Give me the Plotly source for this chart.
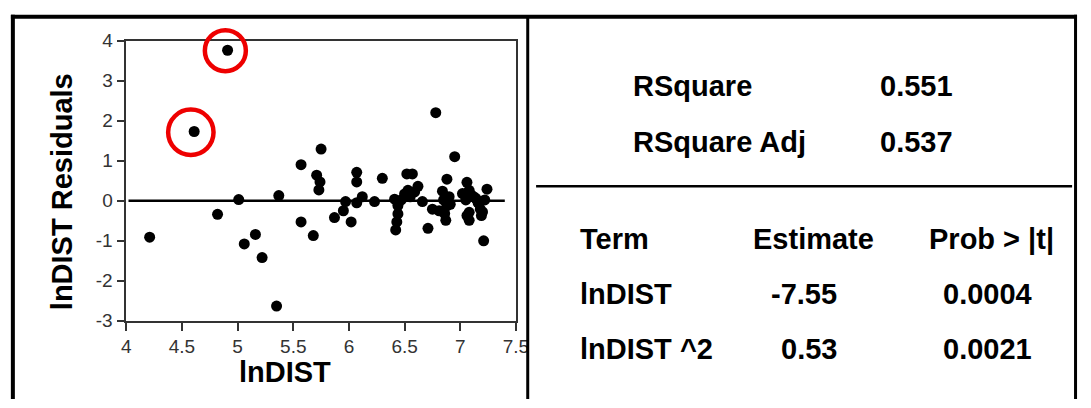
import plotly.graph_objects as go

# ---- data ----
resid_x = [4.21, 4.61, 4.91, 4.82, 5.01, 5.06, 5.16, 5.22, 5.35, 5.37, 5.57, 5.57, 5.75, 5.68,
           5.71, 5.74, 5.73,
           5.87, 5.95, 5.97, 6.02, 6.07, 6.07, 6.07, 6.12, 6.23, 6.30, 6.41, 6.44, 6.44, 6.43,
           6.42, 6.47, 6.50, 6.53, 6.52, 6.57, 6.55, 6.59, 6.62, 6.66, 6.71, 6.75, 6.78, 6.81,
           6.84, 6.85, 6.87, 6.88, 6.88, 6.91, 6.95, 6.90, 6.86,
           7.02, 7.05, 7.06, 7.08, 7.12, 7.08, 7.08, 7.06, 7.10, 7.14, 7.18, 7.19, 7.22, 7.24,
           7.21, 7.20, 7.16]
resid_y = [-0.91, 1.73, 3.76, -0.34, 0.03, -1.08, -0.84, -1.42, -2.63, 0.13, 0.90, -0.53, 1.29, -0.87,
           0.64, 0.47, 0.27,
           -0.42, -0.25, -0.02, -0.53, 0.71, 0.47, -0.05, 0.10, -0.02, 0.56, 0.04, -0.12, -0.33, -0.53,
           -0.73, 0.02, 0.17, 0.26, 0.67, 0.67, 0.10, 0.22, 0.36, -0.02, -0.69, -0.21, 2.20, -0.25,
           0.24, 0.02, -0.49, 0.54, -0.13, -0.09, 1.10, 0.10, -0.32,
           0.18, 0.02, 0.46, 0.26, 0.10, -0.29, -0.49, -0.37, 0.14, 0.06, -0.21, -0.37, 0.02, 0.29,
           -1.00, -0.28, -0.05]
zero_line_x = [4.02, 7.40]
zero_line_y = [0, 0]
circle_x = [4.58, 4.89]
circle_y = [1.71, 3.75]
circle_r = [22.7, 20.5]

x_range = [4, 7.5]
y_range = [-3, 4]
x_ticks = [4, 4.5, 5, 5.5, 6, 6.5, 7, 7.5]
x_tick_text = ["4", "4.5", "5", "5.5", "6", "6.5", "7", "7.5"]
y_ticks = [-3, -2, -1, 0, 1, 2, 3, 4]
y_tick_text = ["-3", "-2", "-1", "0", "1", "2", "3", "4"]

fit_labels = ["RSquare", "RSquare Adj"]
fit_values = ["0.551", "0.537"]
table_header = ["Term", "Estimate", "Prob > |t|"]
terms = ["lnDIST", "lnDIST ^2"]
estimates = ["-7.55", "0.53"]
probs = ["0.0004", "0.0021"]

# ---- figure ----
W, H = 1091, 408
def px(v):
    return v / W
def py(v):
    return 1 - v / H

FONT = "Liberation Sans, Arial, sans-serif"
FS = 29
x_dom = [px(123.3), px(519.5)]
y_dom = [py(327.7), py(32.3)]

fig = go.Figure()
fig.add_trace(go.Scatter(x=zero_line_x, y=zero_line_y, mode="lines",
                         line=dict(color="black", width=2.5), hoverinfo="skip", showlegend=False))
fig.add_trace(go.Scatter(x=resid_x, y=resid_y, mode="markers",
                         marker=dict(color="black", size=11, symbol="circle"), showlegend=False))

axis_common = dict(showgrid=False, zeroline=False, showline=True, linecolor="#333", linewidth=1.5,
                   mirror=True, ticks="outside", ticklen=8, tickwidth=1.5, tickcolor="#333",
                   tickfont=dict(family=FONT, size=19, color="#333"), fixedrange=True)
fig.update_xaxes(range=x_range, domain=x_dom, tickvals=x_ticks,
                 ticktext=x_tick_text, **axis_common)
fig.update_yaxes(range=y_range, domain=y_dom, tickvals=y_ticks,
                 ticktext=y_tick_text, **axis_common)

anns = []
def text(s, x, y, anchor="left", size=FS):
    anns.append(dict(text="<b>" + s + "</b>", x=px(x), y=py(y), xref="paper", yref="paper",
                     xanchor=anchor, yanchor="middle", showarrow=False,
                     font=dict(family=FONT, size=size, color="black")))

text("lnDIST", 285, 382, "center")
anns.append(dict(text="<b>lnDIST Residuals</b>", x=px(58), y=py(192), xref="paper", yref="paper",
                 xanchor="center", yanchor="middle", textangle=-90, showarrow=False,
                 font=dict(family=FONT, size=FS, color="black")))

row_y_fit = [80, 139]
for lab, val, yy in zip(fit_labels, fit_values, row_y_fit):
    text(lab, 636, yy, "left")
    text(val, 966, yy, "right")

hdr_y = 241
text(table_header[0], 583, hdr_y, "left")
text(table_header[1], 822, hdr_y, "center")
text(table_header[2], 1003, hdr_y, "center")
row_y = [299, 357]
for t, e, p, yy in zip(terms, estimates, probs, row_y):
    text(t, 583, yy, "left")
    text(e, 848, yy, "right")
    text(p, 999, yy, "center")

shapes = [
    dict(type="line", xref="paper", yref="paper", x0=px(8), x1=px(8), y0=py(5), y1=py(410),
         line=dict(color="black", width=4)),
    dict(type="line", xref="paper", yref="paper", x0=px(6), x1=px(1090), y0=py(7), y1=py(7),
         line=dict(color="black", width=4)),
    dict(type="line", xref="paper", yref="paper", x0=px(1088.5), x1=px(1088.5), y0=py(5), y1=py(410),
         line=dict(color="black", width=3)),
    dict(type="line", xref="paper", yref="paper", x0=px(531.5), x1=px(531.5), y0=py(7), y1=py(410),
         line=dict(color="black", width=3)),
    dict(type="line", xref="paper", yref="paper", x0=px(540), x1=px(1085), y0=py(185.7), y1=py(185.7),
         line=dict(color="black", width=2.5)),
]

# red highlight rings (placed in paper space from data coords so they are not clipped)
for cx, cy, r in zip(circle_x, circle_y, circle_r):
    ax = x_dom[0] + (cx - x_range[0]) / (x_range[1] - x_range[0]) * (x_dom[1] - x_dom[0])
    ay = y_dom[0] + (cy - y_range[0]) / (y_range[1] - y_range[0]) * (y_dom[1] - y_dom[0])
    shapes.append(dict(type="circle", xref="paper", yref="paper",
                       xsizemode="pixel", ysizemode="pixel", xanchor=ax, yanchor=ay,
                       x0=-r, x1=r, y0=-r, y1=r,
                       line=dict(color="#ee0000", width=4.5), fillcolor="rgba(0,0,0,0)"))

fig.update_layout(width=W, height=H, margin=dict(l=0, r=0, t=0, b=0),
                  paper_bgcolor="white", plot_bgcolor="white",
                  annotations=anns, shapes=shapes, showlegend=False)
fig.write_html("out.html", config={"displayModeBar": False})
